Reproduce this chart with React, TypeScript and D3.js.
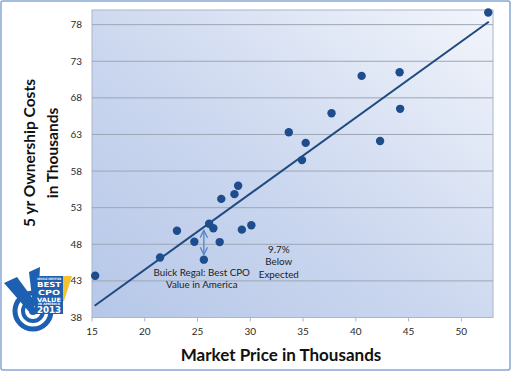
import React, { useEffect, useRef } from 'react';
import * as d3 from 'd3';

// market price (thousands) vs 5 yr ownership cost (thousands)
const marketPrice = [15.3, 21.45, 23.05, 24.7, 25.6, 26.1, 26.5, 27.1, 27.25, 28.5, 28.85, 29.2, 30.1, 33.65, 35.25, 34.9, 37.7, 40.55, 42.3, 44.15, 44.2, 52.55];
const ownershipCost = [43.7, 46.2, 49.85, 48.35, 45.9, 50.8, 50.2, 48.3, 54.2, 54.85, 56.0, 50.0, 50.6, 63.3, 61.85, 59.5, 65.9, 71.0, 62.1, 71.5, 66.5, 79.65];

const trendX = [15.25, 52.6];
const trendY = [39.6, 78.4];

const xTicks = [15, 20, 25, 30, 35, 40, 45, 50];
const yTicks = [38, 43, 48, 53, 58, 63, 68, 73, 78];

const arrowX = 25.6;
const arrowY = [49.9, 46.6];

const buickLines = ['Buick Regal: Best CPO', 'Value in America'];
const buickAt = [25.4, 43.7];
const belowLines = ['9.7%', 'Below', 'Expected'];
const belowAt = [32.7, 46.85];

const font = 'Lato, "Open Sans", sans-serif';

const App = () => {
	const ref = useRef<SVGSVGElement>(null);

	useEffect(() => {
		const svg = d3.select(ref.current);
		svg.selectAll('*').remove();

		const left = 92, right = 493, top = 10, bottom = 317.5;
		const x = d3.scaleLinear().domain([15, 53]).range([left, right]);
		const y = d3.scaleLinear().domain([38, 80]).range([bottom, top]);

		const defs = svg.append('defs');
		const grad = defs.append('linearGradient')
			.attr('id', 'bg')
			.attr('x1', 0).attr('y1', 1).attr('x2', 1).attr('y2', 0);
		grad.append('stop').attr('offset', '0%').attr('stop-color', '#b6c7e8');
		grad.append('stop').attr('offset', '45%').attr('stop-color', '#cbd7ef');
		grad.append('stop').attr('offset', '100%').attr('stop-color', '#f2f5fb');

		defs.append('marker')
			.attr('id', 'head')
			.attr('viewBox', '0 0 10 10')
			.attr('refX', 9).attr('refY', 5)
			.attr('markerWidth', 7).attr('markerHeight', 7)
			.attr('orient', 'auto-start-reverse')
			.append('path')
			.attr('d', 'M1,1 L9,5 L1,9')
			.attr('fill', 'none')
			.attr('stroke', '#4f86c6')
			.attr('stroke-width', 1.4);

		// outer frame
		svg.append('rect')
			.attr('x', 1).attr('y', 1).attr('width', 509).attr('height', 369)
			.attr('rx', 2)
			.attr('fill', '#fff')
			.attr('stroke', '#86a6d6')
			.attr('stroke-width', 1.5);

		// plot area
		svg.append('rect')
			.attr('x', left).attr('y', top)
			.attr('width', right - left).attr('height', bottom - top)
			.attr('fill', 'url(#bg)')
			.attr('stroke', '#a9b6cb')
			.attr('stroke-width', 1);

		svg.append('g')
			.selectAll('line')
			.data(yTicks.slice(1))
			.join('line')
			.attr('x1', left).attr('x2', right)
			.attr('y1', d => y(d)).attr('y2', d => y(d))
			.attr('stroke', '#9da6b4')
			.attr('stroke-width', 1);

		// y tick labels
		svg.append('g')
			.selectAll('text')
			.data(yTicks)
			.join('text')
			.attr('x', 82)
			.attr('y', d => y(d) + 3.5)
			.attr('text-anchor', 'end')
			.style('font-family', font)
			.style('font-size', '10px')
			.attr('fill', '#2a2a2a')
			.text(d => d);

		// x ticks
		const xg = svg.append('g');
		xg.selectAll('line')
			.data(xTicks)
			.join('line')
			.attr('x1', d => x(d)).attr('x2', d => x(d))
			.attr('y1', bottom).attr('y2', bottom + 4)
			.attr('stroke', '#a9b6cb');
		xg.selectAll('text')
			.data(xTicks)
			.join('text')
			.attr('x', d => x(d))
			.attr('y', 335)
			.attr('text-anchor', 'middle')
			.style('font-family', font)
			.style('font-size', '10px')
			.attr('fill', '#2a2a2a')
			.text(d => d);

		// trend line
		const line = d3.line<number>()
			.x((d, i) => x(trendX[i]))
			.y(d => y(d));
		svg.append('path')
			.datum(trendY)
			.attr('d', line)
			.attr('fill', 'none')
			.attr('stroke', '#1f4a7f')
			.attr('stroke-width', 2);

		// points
		svg.append('g')
			.selectAll('circle')
			.data(marketPrice)
			.join('circle')
			.attr('cx', d => x(d))
			.attr('cy', (d, i) => y(ownershipCost[i]))
			.attr('r', 4.2)
			.attr('fill', '#1d4d8c');

		// arrow
		svg.append('line')
			.attr('x1', x(arrowX)).attr('x2', x(arrowX))
			.attr('y1', y(arrowY[0])).attr('y2', y(arrowY[1]))
			.attr('stroke', '#4f86c6')
			.attr('stroke-width', 1.3)
			.attr('marker-start', 'url(#head)')
			.attr('marker-end', 'url(#head)');

		const note = (lines: string[], at: number[], gap: number) => {
			svg.append('g')
				.selectAll('text')
				.data(lines)
				.join('text')
				.attr('x', x(at[0]))
				.attr('y', (d, i) => y(at[1]) + i * gap)
				.attr('text-anchor', 'middle')
				.style('font-family', font)
				.style('font-size', '9.8px')
				.attr('fill', '#222')
				.text(d => d);
		};
		note(buickLines, buickAt, 12.5);
		note(belowLines, belowAt, 12.6);

		// axis titles
		svg.append('text')
			.attr('x', 281).attr('y', 361)
			.attr('text-anchor', 'middle')
			.style('font-family', font)
			.style('font-size', '17px')
			.style('font-weight', 'bold')
			.attr('fill', '#111')
			.text('Market Price in Thousands');

		const yt = svg.append('g').attr('transform', 'translate(35,153) rotate(-90)');
		yt.append('text')
			.attr('text-anchor', 'middle')
			.style('font-family', font)
			.style('font-size', '15.5px')
			.style('font-weight', 'bold')
			.attr('fill', '#111')
			.text('5 yr Ownership Costs');
		yt.append('text')
			.attr('y', 23)
			.attr('text-anchor', 'middle')
			.style('font-family', font)
			.style('font-size', '15.5px')
			.style('font-weight', 'bold')
			.attr('fill', '#111')
			.text('in Thousands');

		// award badge
		const b = svg.append('g');
		b.append('circle').attr('cx', 33).attr('cy', 311).attr('r', 18)
			.attr('fill', 'none').attr('stroke', '#1d5fb0').attr('stroke-width', 5);
		b.append('circle').attr('cx', 33).attr('cy', 311).attr('r', 10)
			.attr('fill', 'none').attr('stroke', '#1d5fb0').attr('stroke-width', 4);
		b.append('circle').attr('cx', 33).attr('cy', 311).attr('r', 4).attr('fill', '#1d5fb0');
		b.append('path')
			.attr('d', 'M4,283 L17,277 L36,303 L31,314 Z')
			.attr('fill', '#1d5fb0');
		b.append('path')
			.attr('d', 'M29,272 L40,267 L38,304 L33,306 Z')
			.attr('fill', '#1d5fb0');
		b.append('path')
			.attr('d', 'M54,276 L72,276 L64,301 L54,301 Z')
			.attr('fill', '#f2c230');
		b.append('rect').attr('x', 35).attr('y', 276).attr('width', 28).attr('height', 38)
			.attr('fill', '#1d5fb0');
		const badge = [
			{ t: 'VEHICLE CERTIFIED', s: 3, yy: 279.5, w: 24 },
			{ t: 'BEST', s: 7, yy: 287, w: 24 },
			{ t: 'CPO', s: 7, yy: 295, w: 22 },
			{ t: 'VALUE', s: 6, yy: 301.5, w: 24 },
			{ t: 'IN AMERICA', s: 3, yy: 304.5, w: 22 },
			{ t: '2013', s: 8, yy: 313, w: 24 },
		];
		b.selectAll('text.badge')
			.data(badge)
			.join('text')
			.attr('class', 'badge')
			.attr('x', 49)
			.attr('y', d => d.yy)
			.attr('text-anchor', 'middle')
			.attr('textLength', d => d.w)
			.attr('lengthAdjust', 'spacingAndGlyphs')
			.style('font-family', '"DejaVu Sans Condensed", "Liberation Sans Narrow", sans-serif')
			.style('font-size', d => d.s + 'px')
			.style('font-weight', 'bold')
			.attr('fill', '#fff')
			.text(d => d.t);
	}, []);

	return (
		<div style={{ position: 'absolute', left: 0, top: 0 }}>
			<svg ref={ref} width={512} height={372}></svg>
		</div>
	);
};

export default App;
